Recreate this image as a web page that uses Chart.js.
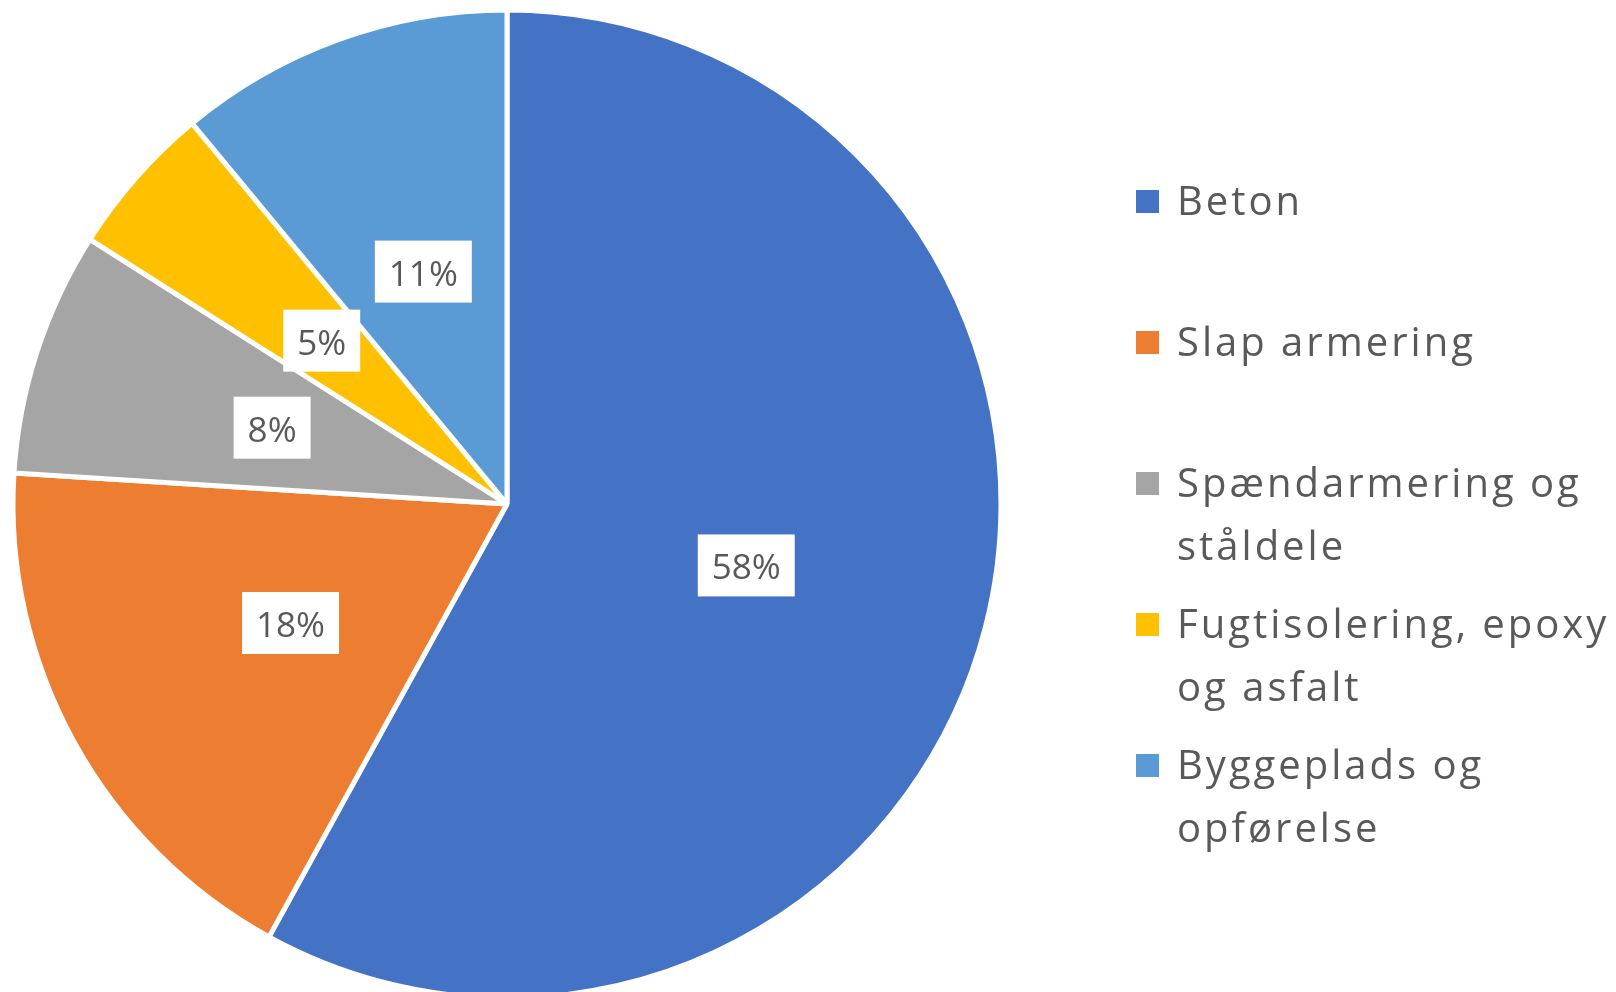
<!DOCTYPE html>
<html>
<head>
<meta charset="utf-8">
<title>Materialefordeling</title>
<script src="https://cdn.jsdelivr.net/npm/chart.js@4.4.1/dist/chart.umd.min.js"></script>
<style>
  html, body { margin: 0; padding: 0; background: #fff; }
  #wrap { width: 1616px; height: 992px; position: relative; }
</style>
</head>
<body>
<div id="wrap"><canvas id="pieChart"></canvas></div>
<script>
// slice names, wrapped the way the legend shows them
const categories = [
  ["Beton"],
  ["Slap armering"],
  ["Spændarmering og", "ståldele"],
  ["Fugtisolering, epoxy", "og asfalt"],
  ["Byggeplads og", "opførelse"]
];
const shares = [58, 18, 8, 5, 11];
const sliceColors = ["#4472C4", "#ED7D31", "#A5A5A5", "#FFC000", "#5B9BD5"];

const FONT = '"Open Sans", sans-serif';
const TEXT_GREY = "#595959";

// percentage in a white box, halfway out along each slice
const sliceLabels = {
  id: "sliceLabels",
  afterDatasetsDraw(chart, args, opts) {
    const ctx = chart.ctx;
    const meta = chart.getDatasetMeta(0);
    ctx.save();
    ctx.font = opts.fontSize + "px " + FONT;
    ctx.textAlign = "center";
    ctx.textBaseline = "alphabetic";
    meta.data.forEach((arc, i) => {
      const { x, y } = arc.getCenterPoint();
      const txt = shares[i] + "%";
      const w = ctx.measureText(txt).width + opts.padX * 2;
      const h = opts.boxHeight;
      ctx.fillStyle = "#fff";
      ctx.fillRect(x - w / 2, y - h / 2, w, h);
      ctx.fillStyle = TEXT_GREY;
      ctx.fillText(txt, x, y + opts.baseline);
    });
    ctx.restore();
  }
};

// legend on the right, every entry gets the same slot height
const sideLegend = {
  id: "sideLegend",
  afterDraw(chart, args, o) {
    const ctx = chart.ctx;
    ctx.save();
    ctx.font = o.fontSize + "px " + FONT;
    ctx.letterSpacing = o.letterSpacing + "px";
    ctx.textAlign = "left";
    ctx.textBaseline = "alphabetic";
    chart.data.labels.forEach((lines, i) => {
      const top = o.top + i * o.step;
      ctx.fillStyle = chart.data.datasets[0].backgroundColor[i];
      ctx.fillRect(o.left, top, o.box, o.box);
      ctx.fillStyle = TEXT_GREY;
      lines.forEach((line, j) => {
        ctx.fillText(line, o.left + o.box + o.gap, top + o.baseline + j * o.lineHeight);
      });
    });
    ctx.restore();
  }
};

new Chart(document.getElementById("pieChart"), {
  type: "pie",
  data: {
    labels: categories,
    datasets: [{
      data: shares,
      backgroundColor: sliceColors,
      borderColor: "#fff",
      borderWidth: 5
    }]
  },
  options: {
    responsive: true,
    maintainAspectRatio: false,
    animation: false,
    radius: 494,
    layout: { padding: { left: 0, top: 16, right: 602, bottom: 0 } },
    plugins: {
      legend: { display: false },
      tooltip: { enabled: false },
      sliceLabels: { fontSize: 35, padX: 14, boxHeight: 62, baseline: 14 },
      sideLegend: {
        left: 1136, top: 190, step: 141, box: 23, gap: 18,
        fontSize: 40, letterSpacing: 3, lineHeight: 63, baseline: 25
      }
    }
  },
  plugins: [sliceLabels, sideLegend]
});
</script>
</body>
</html>
